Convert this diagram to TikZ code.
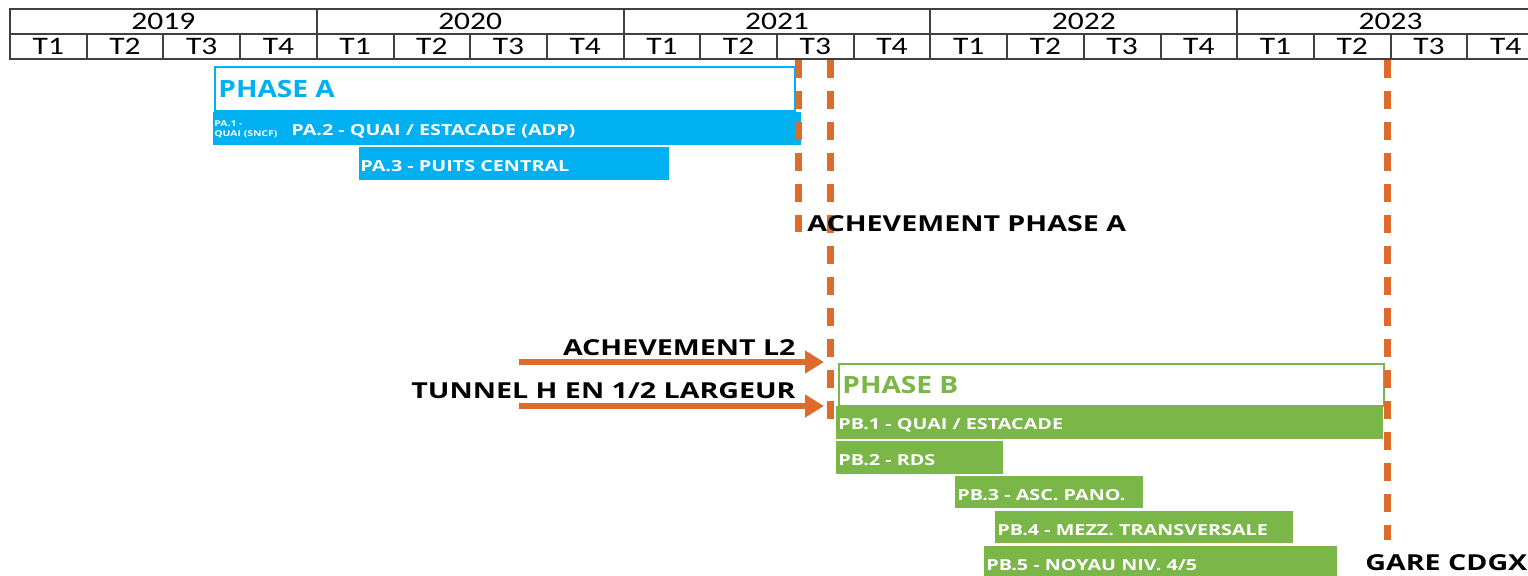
\documentclass[tikz,border=0pt]{standalone}
\usepackage{fontspec}
\setmainfont{Open Sans}
\newfontfamily\hdfont[FakeStretch=1.25]{Carlito}
\newfontfamily\lbfont[FakeStretch=1.3]{Open Sans}
\newfontfamily\ttlfont[FakeStretch=1.18]{Open Sans}
\usepackage{tikz}
\usetikzlibrary{positioning}
\usetikzlibrary{arrows.meta}
\definecolor{phasea}{HTML}{00B0F0}
\definecolor{phaseb}{HTML}{7AB648}
\definecolor{jalon}{HTML}{DC6B2C}
\definecolor{grille}{HTML}{404040}

\begin{document}
\begin{tikzpicture}[x=0.5pt,y=-0.5pt,
cell/.style = {draw=grille, line width=1pt, inner sep=0pt, anchor=north west,
  minimum height=12.5pt, font=\hdfont\fontsize{12.6}{13}\selectfont},
phbox/.style = {draw=#1, line width=1pt, fill=white, inner sep=0pt, anchor=north west},
phtitle/.style = {inner sep=0pt, text=#1, font=\ttlfont\bfseries\fontsize{11.9}{13}\selectfont},
bar/.style = {fill=#1, inner sep=0pt, anchor=north west, minimum height=16.5pt},
bartxt/.style = {inner sep=0pt, text=white, yshift=-1.2pt, font=\lbfont\bfseries\fontsize{7.6}{9}\selectfont},
jalonlbl/.style = {inner sep=0pt, text=black, font=\lbfont\bfseries\fontsize{11}{12}\selectfont},
jalonline/.style = {draw=jalon, line width=3.5pt, dash pattern=on 9pt off 6.5pt},
fleche/.style = {draw=jalon, line width=2.8pt, -{Triangle[length=9.5pt,width=11pt]}}
]
\useasboundingbox (0,0) rectangle (1528,575);
\clip (0,0) rectangle (1528,575);

\foreach \an [count=\i from 0] in {2019,2020,2021,2022,2023}
  \node[cell, minimum width=153.4pt] (an\i) at (9+\i*306.8,8) {\an};
\foreach \q in {0,...,19} {
  \pgfmathtruncatemacro\tr{mod(\q,4)+1}
  \node[cell, minimum width=38.35pt] (t\q) at (9+\q*76.7,33) {T\tr};
}

\node[phbox=phasea, minimum width=290pt, minimum height=22pt] (phA) at (214,66) {};
\node[phtitle=phasea, right=2pt of phA.west] (phAtxt) {PHASE A};
\node[bar=phasea, minimum width=294pt] (pa2) at (213,112) {};
\node[bartxt, right=0.5pt of pa2.west, align=left, yshift=1.2pt,
  font=\lbfont\bfseries\fontsize{4}{5}\selectfont] (pa1txt) {PA.1 -\\QUAI (SNCF)};
\node[bartxt, right=39pt of pa2.west] (pa2txt) {PA.2 - QUAI / ESTACADE (ADP)};
\node[bar=phasea, minimum width=155pt] (pa3) at (359,147) {};
\node[bartxt, right=0.5pt of pa3.west] (pa3txt) {PA.3 - PUITS CENTRAL};

\node[phbox=phaseb, minimum width=272.5pt, minimum height=21pt] (phB) at (838,363) {};
\node[phtitle=phaseb, right=2pt of phB.west] (phBtxt) {PHASE B};
\node[bar=phaseb, minimum width=273.5pt] (pb1) at (836,406) {};
\node[bartxt, right=1pt of pb1.west] (pb1txt) {PB.1 - QUAI / ESTACADE};
\node[bar=phaseb, minimum width=83.5pt] (pb2) at (836,441) {};
\node[bartxt, right=1pt of pb2.west] (pb2txt) {PB.2 - RDS};
\node[bar=phaseb, minimum width=94pt, minimum height=16pt] (pb3) at (955,476) {};
\node[bartxt, right=1pt of pb3.west] (pb3txt) {PB.3 - ASC. PANO.};
\node[bar=phaseb, minimum width=149pt, minimum height=16pt] (pb4) at (995,511) {};
\node[bartxt, right=1pt of pb4.west] (pb4txt) {PB.4 - MEZZ. TRANSVERSALE};
\node[bar=phaseb, minimum width=176.5pt, minimum height=16pt] (pb5) at (984,546) {};
\node[bartxt, right=1pt of pb5.west] (pb5txt) {PB.5 - NOYAU NIV. 4/5};

\coordinate (jA1) at (798,60);
\coordinate (jA2) at (798,232);
\coordinate (jL1) at (830,60);
\coordinate (jL2) at (830,425);
\coordinate (jG1) at (1387,60);
\coordinate (jG2) at (1387,540);
\draw[jalonline] (jA1) -- (jA2);
\draw[jalonline] (jL1) -- (jL2);
\draw[jalonline] (jG1) -- (jG2);

\node[jalonlbl, anchor=west] (achA) at (807,224) {ACHEVEMENT PHASE A};
\node[jalonlbl, anchor=east] (achL2) at (796,348) {ACHEVEMENT L2};
\node[jalonlbl, anchor=east] (tunH) at (796,391) {TUNNEL H EN 1/2 LARGEUR};
\node[jalonlbl, anchor=west] (gare) at (1365,563) {GARE CDGX};

\coordinate (fL2a) at (519,362);
\coordinate (fL2b) at (824,362);
\coordinate (fTHa) at (519,406);
\coordinate (fTHb) at (824,406);
\draw[fleche] (fL2a) -- (fL2b);
\draw[fleche] (fTHa) -- (fTHb);
\end{tikzpicture}
\end{document}
